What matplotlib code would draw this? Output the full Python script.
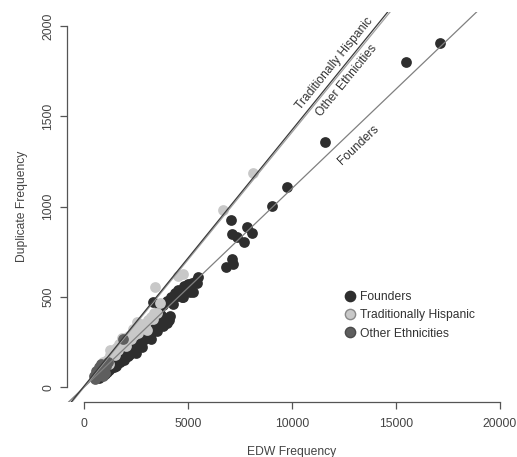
import numpy as np
import matplotlib
matplotlib.use("Agg")
import matplotlib.pyplot as plt
from matplotlib.lines import Line2D

plt.rcParams['font.family'] = ['Liberation Sans', 'DejaVu Sans']

# Founders (EDW frequency, duplicate frequency)
founders_x = [700, 800, 900, 1000, 1100, 1200, 1300, 1450, 1550, 1650, 1750, 1900,
              2000, 2100, 2200, 2300, 2400, 2500, 2600, 2700, 2800, 2900, 3000, 3100,
              3200, 3300, 3400, 3500, 3600, 3700, 3800, 3900, 4000, 4100, 4150,
              2300, 2600, 2900, 3300, 3600, 2000, 1700, 1400, 1200, 2500, 2800,
              3200, 3500, 3800, 4000, 3340, 3600, 3800, 4000, 4200, 4400, 4500,
              4700, 4800, 5000, 5200, 5400, 5500, 5100, 4300, 4400, 4700, 5260,
              5420, 4780, 3000, 3400, 3700, 2700, 1850, 1500,
              6820, 7140, 7190, 7060, 7140, 7380, 7700, 7830, 8100,
              9030, 9750, 11600, 15500, 17130]
founders_y = [50, 60, 70, 75, 85, 95, 105, 110, 120, 135, 140, 150,
              165, 175, 185, 200, 210, 215, 225, 240, 250, 265, 275, 285,
              300, 310, 320, 335, 345, 355, 365, 375, 385, 370, 395,
              230, 255, 290, 335, 375, 195, 160, 130, 115, 190, 225,
              270, 310, 340, 355, 474, 430, 455, 480, 500, 520, 540,
              540, 560, 570, 580, 590, 612, 530, 460, 500, 500, 529,
              576, 502, 300, 360, 400, 270, 185, 145,
              664, 710, 683, 926, 849, 834, 806, 886, 856,
              1005, 1107, 1360, 1801, 1906]

# Traditionally Hispanic
hispanic_x = [650, 800, 950, 1100, 1250, 1250, 1400, 1550, 1700, 1813, 1950, 2054,
              2200, 2350, 2535, 2695, 2850, 3016, 3200, 3350, 3497, 3657, 3417,
              4540, 4780, 6675, 8118, 1500, 2400, 3100, 900, 1200, 2000,
              1650, 2250, 2600, 2950, 3300]
hispanic_y = [80, 100, 120, 150, 180, 207, 200, 215, 240, 271, 260, 280,
              290, 320, 363, 336, 350, 317, 390, 410, 410, 465, 557,
              614, 627, 982, 1185, 180, 290, 370, 140, 130, 230,
              205, 265, 300, 340, 380]

# Other Ethnicities
other_x = [550, 650, 750, 850, 950, 1050, 600, 700, 800, 900, 1000, 1893, 1150, 500]
other_y = [45, 60, 70, 90, 100, 120, 90, 110, 130, 60, 80, 266, 140, 60]

# fitted slopes (through origin)
slope_founders = 0.110
slope_hispanic = 0.1418
slope_other = 0.1411

fig = plt.figure(figsize=(5.17, 4.57), dpi=100)
ax = fig.add_axes([67.4 / 517, 55.3 / 457, 448.8 / 517, 390.0 / 457])
ax.set_xlim(-800, 20800)
ax.set_ylim(-80, 2080)

ax.scatter(founders_x, founders_y, s=60, color='#2e2e2e', linewidths=0, zorder=3)
ax.scatter(hispanic_x, hispanic_y, s=60, color='#c8c8c8', linewidths=0, zorder=3)
ax.scatter(other_x, other_y, s=60, color='#5e5e5e', linewidths=0, zorder=3)

xs = np.array([-2000, 22000])
ax.plot(xs, slope_founders * xs, color='#808080', lw=0.9, zorder=4)
ax.plot(xs, slope_other * xs, color='#a0a0a0', lw=0.9, zorder=4)
ax.plot(xs, slope_hispanic * xs + 6, color='#3a3a3a', lw=0.9, zorder=4)

fig.canvas.draw()


def screen_angle(slope):
    p0 = ax.transData.transform((0, 0))
    p1 = ax.transData.transform((10000, 10000 * slope))
    return np.degrees(np.arctan2(p1[1] - p0[1], p1[0] - p0[0]))


lab_kw = dict(fontsize=8.7, color='#333333', ha='center', va='center',
              rotation_mode='anchor')
ax.text(12079, 1794, 'Traditionally Hispanic', rotation=screen_angle(slope_hispanic), **lab_kw)
ax.text(12671, 1701, 'Other Ethnicities', rotation=screen_angle(slope_other), **lab_kw)
ax.text(13234, 1341, 'Founders', rotation=screen_angle(slope_founders), **lab_kw)

for s in ['top', 'right']:
    ax.spines[s].set_visible(False)
ax.spines['left'].set_bounds(0, 2000)
ax.spines['bottom'].set_bounds(0, 20000)
for s in ['left', 'bottom']:
    ax.spines[s].set_color('#555555')
    ax.spines[s].set_linewidth(0.9)

ax.set_xticks([0, 5000, 10000, 15000, 20000])
ax.set_yticks([0, 500, 1000, 1500, 2000])
ax.tick_params(axis='both', length=5, width=0.9, color='#555555',
               labelsize=8.7, labelcolor='#444444')
ax.tick_params(axis='x', pad=6.5)
ax.tick_params(axis='y', pad=4.3)
for lbl in ax.get_yticklabels():
    lbl.set_rotation(90)
    lbl.set_va('center')

ax.set_xlabel('EDW Frequency', fontsize=8.7, color='#444444', labelpad=12)
ax.set_ylabel('Duplicate Frequency', fontsize=8.7, color='#444444', labelpad=10.5)

handles = [
    Line2D([], [], ls='none', marker='o', markersize=7.4, markerfacecolor='#2e2e2e',
           markeredgecolor='#2e2e2e', label='Founders'),
    Line2D([], [], ls='none', marker='o', markersize=7.4, markerfacecolor='#c8c8c8',
           markeredgecolor='#888888', label='Traditionally Hispanic'),
    Line2D([], [], ls='none', marker='o', markersize=7.4, markerfacecolor='#5e5e5e',
           markeredgecolor='#4a4a4a', label='Other Ethnicities'),
]
leg = ax.legend(handles=handles, frameon=False, fontsize=8.7, loc='upper left',
                bbox_to_anchor=(345 / 517, 1 - 291 / 457), bbox_transform=fig.transFigure,
                handlelength=0.8, handletextpad=0.45, labelspacing=0.52,
                borderpad=0, borderaxespad=0)
for t in leg.get_texts():
    t.set_color('#333333')

fig.savefig('out.png', dpi=100, facecolor='white')
